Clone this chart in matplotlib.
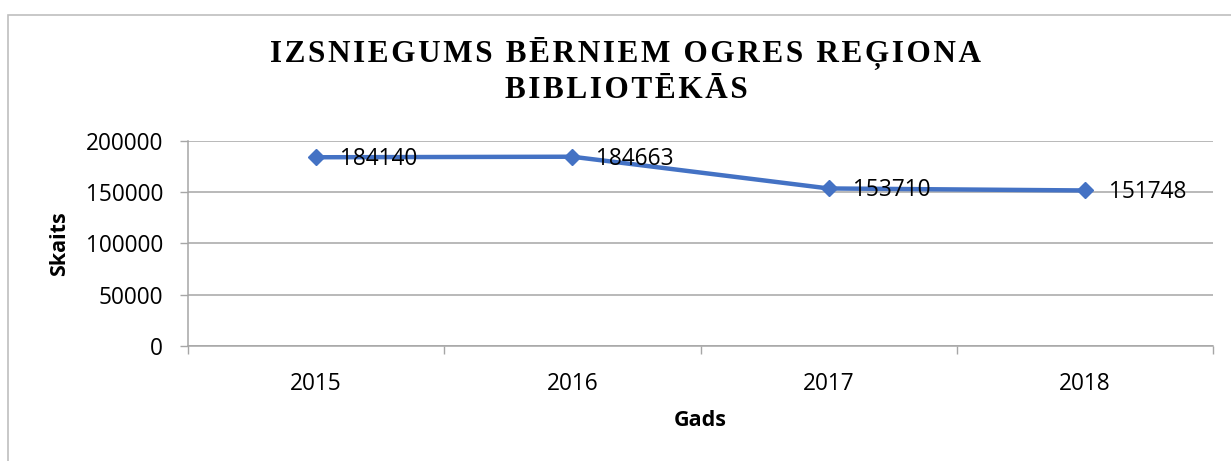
import matplotlib
matplotlib.use("Agg")
import matplotlib.pyplot as plt
from matplotlib.patches import Rectangle

years = ["2015", "2016", "2017", "2018"]
values = [184140, 184663, 153710, 151748]
y_ticks = [0, 50000, 100000, 150000, 200000]
title_lines = ["IZSNIEGUMS BĒRNIEM OGRES REĢIONA", "BIBLIOTĒKĀS"]
x_label = "Gads"
y_label = "Skaits"

W, H = 1231, 461
DPI = 100
fig = plt.figure(figsize=(W / DPI, H / DPI), dpi=DPI)

# outer chart border (extends past right and bottom edges)
fig.patches.append(Rectangle((8 / W, -0.1), 1.2, 1 - 15 / H + 0.1,
                             transform=fig.transFigure, fill=False,
                             edgecolor="#BFBFBF", linewidth=1.2))

ax = fig.add_axes([188 / W, 1 - 346 / H, (1213 - 188) / W, (346 - 141) / H])

tick_font = "Open Sans"
tick_size = 16.3
grid_col = "#A6A6A6"

xs = list(range(len(years)))
ax.plot(xs, values, color="#4472C4", linewidth=3.2, marker="D",
        markersize=8.5, markeredgecolor="#4472C4", markerfacecolor="#4472C4",
        zorder=3, clip_on=False)

for x, v in zip(xs, values):
    ax.annotate(str(v), (x, v), xytext=(24, -2), textcoords="offset pixels",
                ha="left", va="center", fontsize=tick_size, family=tick_font,
                color="black", zorder=4)

ax.set_xlim(-0.5, len(years) - 0.5)
ax.set_ylim(0, 200000)
ax.set_yticks(y_ticks)
ax.set_yticklabels([str(t) for t in y_ticks], family=tick_font, fontsize=tick_size)
ax.set_xticks(xs)
ax.set_xticklabels(years, family=tick_font, fontsize=tick_size)
ax.set_xticks([i - 0.5 for i in range(len(years) + 1)], minor=True)

ax.tick_params(axis="x", which="major", length=0, pad=19)
ax.tick_params(axis="x", which="minor", length=6, color=grid_col, width=1)
ax.tick_params(axis="y", which="major", length=6, color=grid_col, width=1, pad=12)

ax.yaxis.grid(True, color=grid_col, linewidth=1.1)
ax.set_axisbelow(True)
for s in ["top", "right"]:
    ax.spines[s].set_visible(False)
for s in ["left", "bottom"]:
    ax.spines[s].set_color(grid_col)
    ax.spines[s].set_linewidth(1.1)

fig.text(700 / W, 1 - 420 / H, x_label, ha="center", va="center",
         fontsize=15.5, fontweight="bold", family=tick_font)
fig.text(60 / W, 1 - 244 / H, y_label, ha="center", va="center",
         rotation=90, fontsize=15.5, fontweight="bold", family=tick_font)

sp = "\u200a"
for i, line in enumerate(title_lines):
    spaced = sp.join(line)
    fig.text(626 / W, 1 - (53 + 37 * i) / H, spaced, ha="center", va="center",
             fontsize=22.5, fontweight="bold", family="Liberation Serif")

fig.savefig("out.png", dpi=DPI)
